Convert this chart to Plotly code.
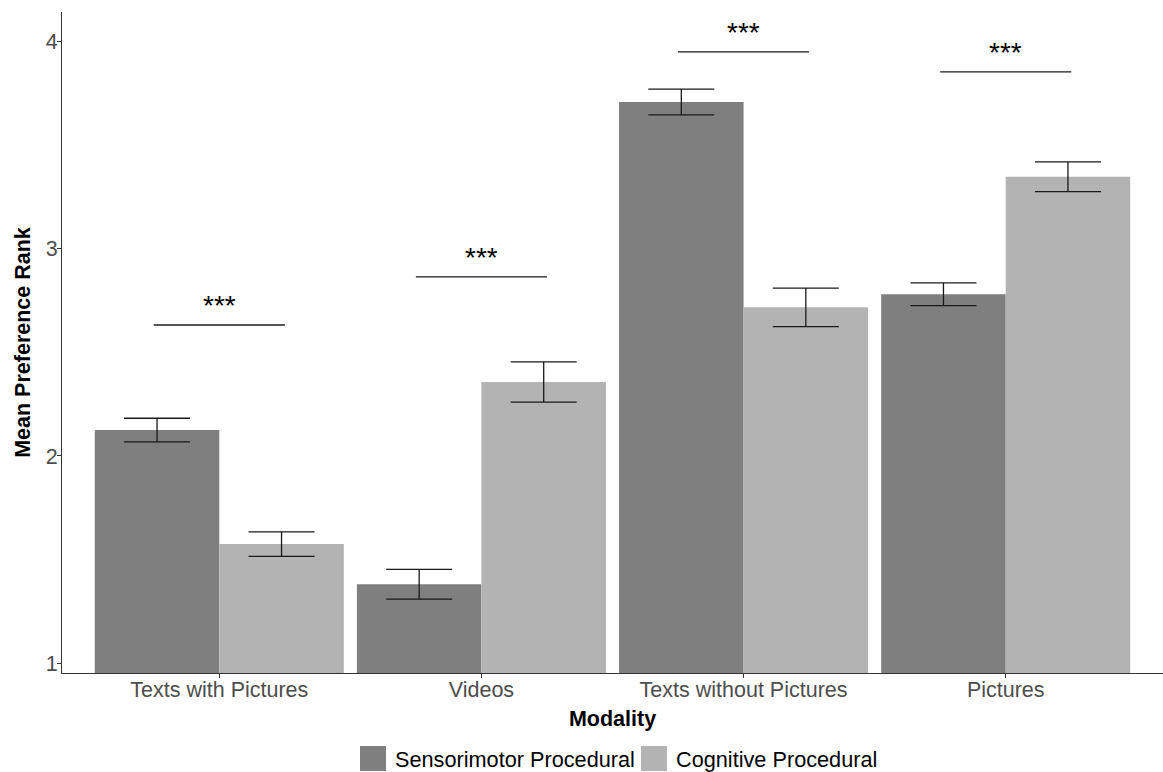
import plotly.graph_objects as go

# Mean preference rank per modality and procedural knowledge type
modalities = ["Texts with Pictures", "Videos", "Texts without Pictures", "Pictures"]
groups = ["Sensorimotor Procedural", "Cognitive Procedural"]
colors = ["#7F7F7F", "#B3B3B3"]

sensorimotor_mean = [2.125, 1.381, 3.708, 2.780]
sensorimotor_se = [0.057, 0.072, 0.062, 0.055]
cognitive_mean = [1.575, 2.357, 2.717, 3.347]
cognitive_se = [0.059, 0.097, 0.093, 0.072]

# significance brackets: height of the bar and its label
sig_y = [2.632, 2.864, 3.950, 3.853]
sig_label = ["***", "***", "***", "***"]

FONT = "Liberation Sans, Arial, sans-serif"
TXT = 21.5
x_idx = list(range(len(modalities)))

fig = go.Figure()
for name, means, ses, col in [
    (groups[0], sensorimotor_mean, sensorimotor_se, colors[0]),
    (groups[1], cognitive_mean, cognitive_se, colors[1]),
]:
    fig.add_trace(go.Bar(
        x=x_idx, y=means, name=name, marker=dict(color=col, line=dict(width=0)),
        error_y=dict(type="data", array=ses, visible=True, color="#1a1a1a",
                     thickness=1.3, width=33),
        showlegend=False,
    ))

# significance lines and stars
for i, (yv, lab) in enumerate(zip(sig_y, sig_label)):
    fig.add_shape(type="line", x0=i - 0.25, x1=i + 0.25, y0=yv, y1=yv,
                  xref="x", yref="y", line=dict(color="#1a1a1a", width=1.3))
    fig.add_annotation(x=i, y=yv, text=lab, showarrow=False, xref="x", yref="y",
                       yanchor="bottom", yshift=2,
                       font=dict(family=FONT, size=28, color="black"))

# legend drawn below the axis title
leg_keys = [(360, groups[0], colors[0]), (641, groups[1], colors[1])]
W, H, L, B = 1101, 661, 62, 673
for px, name, col in leg_keys:
    fig.add_shape(type="rect", xref="paper", yref="paper",
                  x0=(px - L) / W, x1=(px + 26 - L) / W,
                  y0=(B - 771) / H, y1=(B - 746) / H,
                  fillcolor=col, line=dict(width=0))
    fig.add_annotation(xref="paper", yref="paper", x=(px + 33 - L) / W,
                       y=(B - 759) / H, text=name, showarrow=False,
                       xanchor="left", yanchor="middle",
                       font=dict(family=FONT, size=21.7, color="black"))

fig.update_layout(
    width=1163, height=772,
    margin=dict(l=62, r=0, t=12, b=99),
    paper_bgcolor="white", plot_bgcolor="white",
    barmode="group", bargap=0.05, bargroupgap=0,
    font=dict(family=FONT),
)
fig.update_xaxes(
    range=[-0.6, 3.6], tickmode="array", tickvals=x_idx, ticktext=modalities,
    showline=True, linecolor="#333333", linewidth=1.2, showgrid=False, zeroline=False,
    ticks="outside", ticklen=4, tickcolor="#333333", ticklabelstandoff=-7,
    tickfont=dict(family=FONT, size=TXT, color="#4D4D4D"),
    title=dict(text="<b>Modality</b>", font=dict(family=FONT, size=TXT, color="black"), standoff=10),
)
fig.update_yaxes(
    range=[0.953, 4.142], tickvals=[1, 2, 3, 4],
    showline=True, linecolor="#333333", linewidth=1.2, showgrid=False, zeroline=False,
    ticks="outside", ticklen=4, tickcolor="#333333", ticklabelstandoff=-5,
    tickfont=dict(family=FONT, size=TXT, color="#4D4D4D"),
    title=dict(text="<b>Mean Preference Rank</b>", font=dict(family=FONT, size=TXT, color="black"), standoff=9),
)

fig.write_html("out.html")
